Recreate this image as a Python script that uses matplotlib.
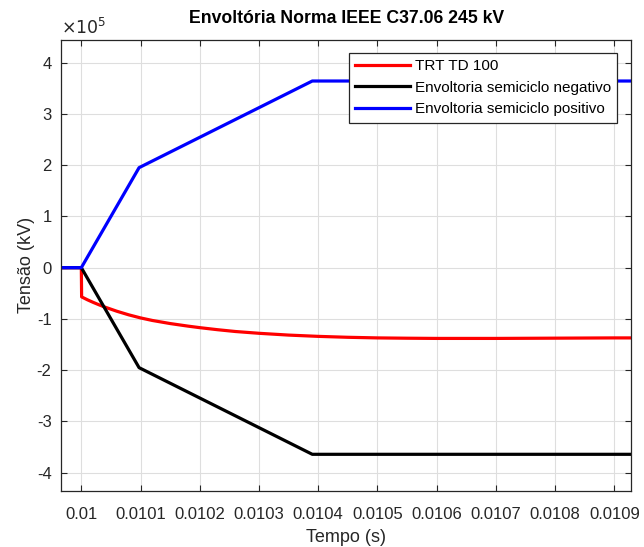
import matplotlib
matplotlib.use("Agg")
import matplotlib.pyplot as plt
from matplotlib.ticker import FuncFormatter

plt.rcParams['font.family'] = ['Liberation Sans', 'DejaVu Sans']

# Data
t_start = 0.0099662
t_end = 0.0109287

trt_t = [t_start, 0.01, 0.0100005, 0.01001, 0.01002, 0.01003, 0.01004, 0.01005,
         0.01006, 0.01008, 0.0101, 0.01012, 0.01015, 0.01018, 0.0102, 0.01023,
         0.01026, 0.0103, 0.01035, 0.0104, 0.01045, 0.0105, 0.01055, 0.0106,
         0.0107, 0.0108, 0.0109, t_end]
trt_v = [0, 0, -0.57e5, -0.625e5, -0.677e5, -0.725e5, -0.77e5, -0.81e5,
         -0.85e5, -0.92e5, -0.98e5, -1.03e5, -1.09e5, -1.14e5, -1.17e5, -1.21e5,
         -1.245e5, -1.28e5, -1.315e5, -1.34e5, -1.358e5, -1.37e5, -1.376e5, -1.38e5,
         -1.38e5, -1.375e5, -1.37e5, -1.37e5]

env_t = [t_start, 0.01, 0.0100975, 0.01039, t_end]
env_pos = [0, 0, 1.95e5, 3.64e5, 3.64e5]
env_neg = [0, 0, -1.95e5, -3.64e5, -3.64e5]

xticks = [0.01, 0.0101, 0.0102, 0.0103, 0.0104, 0.0105, 0.0106, 0.0107, 0.0108, 0.0109]
xticklabels = ['0.01', '0.0101', '0.0102', '0.0103', '0.0104', '0.0105',
               '0.0106', '0.0107', '0.0108', '0.0109']
yticks = [-4e5, -3e5, -2e5, -1e5, 0, 1e5, 2e5, 3e5, 4e5]

fig = plt.figure(figsize=(6.44, 5.47), dpi=100)
ax = fig.add_axes([0.0952, 0.1029, 0.8851, 0.824])

ax.plot(trt_t, trt_v, color='#ff0000', lw=2.3, label='TRT TD 100')
ax.plot(env_t, env_neg, color='#000000', lw=2.3, label='Envoltoria semiciclo negativo')
ax.plot(env_t, env_pos, color='#0000ff', lw=2.3, label='Envoltoria semiciclo positivo')

ax.set_xlim(t_start, t_end)
ax.set_ylim(-4.35e5, 4.44e5)
ax.set_xticks(xticks)
ax.set_xticklabels(xticklabels)
ax.set_yticks(yticks)
ax.yaxis.set_major_formatter(FuncFormatter(lambda v, p: f'{v/1e5:g}'))

ax.grid(True, color='#dedede', lw=0.8)
ax.set_axisbelow(True)
ax.tick_params(direction='in', top=True, right=True, length=4, width=0.8,
               colors='#262626', labelsize=12)
ax.tick_params(axis='x', pad=12)
ax.tick_params(axis='y', pad=7)
for s in ax.spines.values():
    s.set_color('#262626')
    s.set_linewidth(0.9)

ax.set_title('Envoltória Norma IEEE C37.06 245 kV', fontsize=12.7,
             fontweight='bold', color='black', pad=12)
ax.set_xlabel('Tempo (s)', fontsize=13, color='#262626', labelpad=5)
ax.set_ylabel('Tensão (kV)', fontsize=13, color='#262626', labelpad=1)

fig.text(0.094, 0.933, r'$\times 10^{5}$', fontsize=12.5, color='#262626',
         ha='left', va='bottom')

leg = ax.legend(loc='upper right', bbox_to_anchor=(0.975, 0.971), fontsize=11,
                fancybox=False, framealpha=1, edgecolor='#262626',
                handlelength=3.6, handletextpad=0.3, borderpad=0.4,
                labelspacing=0.5, borderaxespad=0)
leg.get_frame().set_linewidth(0.9)

fig.savefig('out.png', dpi=100)
